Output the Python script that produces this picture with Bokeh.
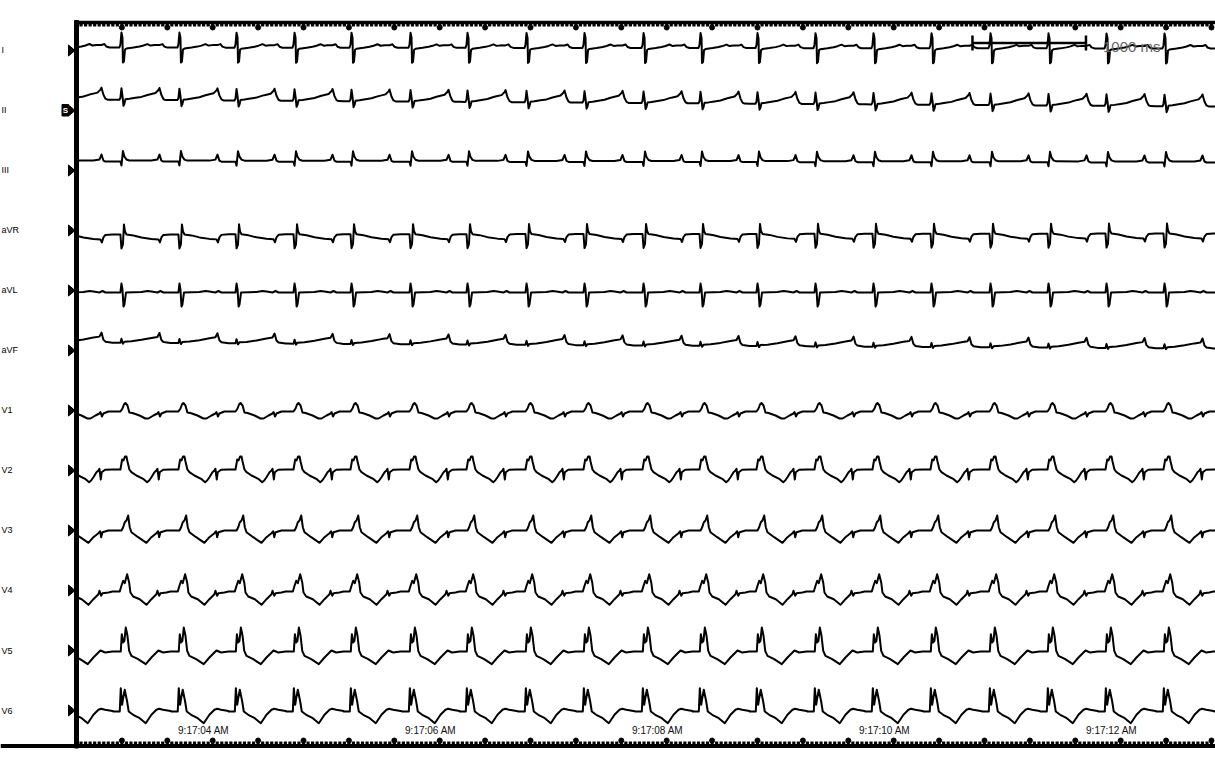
from bokeh.plotting import figure
from bokeh.models import Range1d
from bokeh.embed import file_html
from bokeh.resources import INLINE
from bokeh.core.properties import value

# ---------------- data ----------------
LEADS = ["I", "II", "III", "aVR", "aVL", "aVF", "V1", "V2", "V3", "V4", "V5", "V6"]

# R-wave times (ms from left edge of strip)
BEATS_MS = [-115, 396, 907, 1410, 1921, 2423, 2943, 3445, 3965, 4476, 4996,
            5498, 6000, 6511, 7022, 7533, 8053, 8564, 9075, 9586, 10097]

# one-beat templates per lead: offset from R (ms) and amplitude (display units, up = +)
TPL_I_MS = [-70, -18, -9, 0, 9, 13, 22, 31, 44, 106, 159, 194, 229, 256, 291, 335, 361, 379, 405, 432]
TPL_I_AMP = [0, 0, 3, 15, 10, -15, -14, -2, -1, 0, 1, 2, 3.5, 2, 2.5, 2.5, 3.5, 1, 0, 0]

TPL_II_MS = [-70, -18, -9, 0, 9, 18, 26, 35, 70, 123, 176, 229, 264, 300, 326, 335, 352, 370, 388, 432]
TPL_II_AMP = [0, 0, 2, 11.5, 4, -6, -4, 0.5, 1, 2, 3, 5, 6, 7, 10, 12, 5, 1, 0, 0]

TPL_III_MS = [-70, -9, 0, 13, 26, 44, 70, 264, 317, 335, 352, 370, 432]
TPL_III_AMP = [0, 0, -4, 10.5, 5, 2, 1, 1, 2, 7, 1, 0, 0]

TPL_AVR_MS = [-70, -9, 0, 13, 22, 31, 44, 106, 176, 264, 326, 339, 352, 370, 432]
TPL_AVR_AMP = [0, 0, -14, -10, 10, 3, 0, -1, -3, -4.5, -5, -8, -3, -0.5, 0]

TPL_AVL_MS = [-70, -9, 0, 9, 18, 26, 40, 176, 229, 264, 317, 344, 370, 432]
TPL_AVL_AMP = [0, 0, 9, 3, -14, -12, 0, 0.5, 1.5, 1, 0, 1.5, 0, 0]

TPL_AVF_MS = [-70, -9, 0, 13, 26, 88, 176, 264, 317, 335, 352, 370, 432]
TPL_AVF_AMP = [0, 0, 4, -1, 1, 1.5, 3, 5, 6, 10, 3, 1, 0]

TPL_V1_MS = [-70, -9, 9, 22, 35, 53, 70, 97, 159, 211, 238, 282, 317, 326, 339, 352, 396, 432]
TPL_V1_AMP = [0, 0, 3, 7, 8.5, 6, -1, -1.5, -4, -7, -7, -4, -2, -0.5, -5, -2, 0, 0]

TPL_V2_MS = [-70, -9, 6, 18, 31, 44, 53, 70, 88, 132, 191, 226, 244, 264, 291, 308, 317, 329, 337, 367, 432]
TPL_V2_AMP = [0, 0, 10, 9, 13, 13, 8, 0, -2.7, -6, -9.3, -12.7, -11, -7.7, -2.7, -1, 0.7, -10, -2.7, -0.3, 0]

TPL_V3_MS = [-70, 0, 15, 29, 44, 59, 73, 88, 147, 220, 264, 308, 323, 332, 344, 396, 432]
TPL_V3_AMP = [0, 0, 3.3, 8.3, 10, 15, 3.3, -1.7, -6.7, -12.3, -6.7, -2.7, -0.7, -6.7, -1.7, 0, 0]

TPL_V4_MS = [-70, -15, 0, 15, 29, 50, 68, 79, 103, 161, 220, 264, 308, 317, 332, 344, 396, 432]
TPL_V4_AMP = [0, 0, 5.7, 10.7, 8.3, 17.3, 9, -1, -5, -7.7, -13.3, -7.7, -2.7, 0.7, -4.3, -1.7, -1, 0]

TPL_V5_MS = [-70, -6, 3, 15, 26, 38, 53, 68, 88, 147, 214, 264, 308, 326, 367, 432]
TPL_V5_AMP = [0, 0, 17.3, 9, 10.7, 24, 15.7, 0.7, -4.3, -7.7, -12.7, -6, -1, 1, -1, 0]

TPL_V6_MS = [-70, -15, -6, 6, 15, 29, 50, 64, 103, 161, 214, 264, 308, 332, 367, 432]
TPL_V6_AMP = [0, 0, 23.3, 6.7, 13.3, 21.7, 10, 0, -3.3, -6.7, -11.7, -3.3, 1.7, 2.7, 1.7, 0.5]

TEMPLATES = [(TPL_I_MS, TPL_I_AMP), (TPL_II_MS, TPL_II_AMP), (TPL_III_MS, TPL_III_AMP),
             (TPL_AVR_MS, TPL_AVR_AMP), (TPL_AVL_MS, TPL_AVL_AMP), (TPL_AVF_MS, TPL_AVF_AMP),
             (TPL_V1_MS, TPL_V1_AMP), (TPL_V2_MS, TPL_V2_AMP), (TPL_V3_MS, TPL_V3_AMP),
             (TPL_V4_MS, TPL_V4_AMP), (TPL_V5_MS, TPL_V5_AMP), (TPL_V6_MS, TPL_V6_AMP)]

# baseline wander at the left / right edge of the strip (display units, up = +)
WANDER_START = [1, 2, 0, -1, 0, 3, 0, 0, 0, 0, 0, 0]
WANDER_END = [0, -5, -1, 0, 0, -3, 0, 0, 0, 0, 0, 0]

TIME_LABELS = ["9:17:04 AM", "9:17:06 AM", "9:17:08 AM", "9:17:10 AM", "9:17:12 AM"]
TIME_LABEL_S = [1.12, 3.12, 5.12, 7.12, 9.12]

SCALE_START_S = 7.894
SCALE_MS = 1000
SCALE_TEXT = "1000 ms"

# ---------------- layout ----------------
W, H = 1215, 768
PX0 = 76.0           # pixel of t = 0 (the strip's left edge)
PPS = 113.5          # pixels per second
T_END = (W - PX0) / PPS


def tx(px):
    """absolute pixel column -> seconds"""
    return (px - PX0) / PPS


ROW_BASE = [48, 101, 161, 233, 292, 345, 411, 469, 530, 591, 651, 711]
LABEL_Y = [49 + 60.1 * i for i in range(12)]
ARROW_Y = [50 + 60.0 * i for i in range(12)]
FONT = value("Liberation Sans")

p = figure(width=W, height=H, x_range=Range1d(tx(0), tx(W)), y_range=Range1d(H, 0),
           output_backend="svg", toolbar_location=None, min_border=0,
           x_axis_location=None, y_axis_location=None, outline_line_color=None,
           background_fill_color="white", border_fill_color="white")
p.xgrid.visible = False
p.ygrid.visible = False

# traces
for i, (ms, amp) in enumerate(TEMPLATES):
    xs, ys = [], []
    for b in BEATS_MS:
        for m, a in zip(ms, amp):
            t = (b + m) / 1000.0
            frac = min(max(t / T_END, 0.0), 1.0)
            w = WANDER_START[i] + (WANDER_END[i] - WANDER_START[i]) * frac
            xs.append(t)
            ys.append(ROW_BASE[i] - (a + w))
    p.line(xs, ys, line_color="black", line_width=2, line_join="round")

# blank label margin (traces start at the strip edge)
p.quad(left=[tx(0)], right=[tx(75)], top=[0], bottom=[H], color="white")

# frame lines
p.segment(x0=[tx(74)], x1=[tx(W)], y0=[22], y1=[22], line_color="black", line_width=3.5)
p.segment(x0=[tx(0)], x1=[tx(W)], y0=[745.5], y1=[745.5], line_color="black", line_width=4)
p.quad(left=[tx(74)], right=[tx(78)], top=[20], bottom=[747.5], color="black")
# minor ticks every 0.04 s
minor = [0.04 * k for k in range(1, 251)]
p.segment(x0=minor, x1=minor, y0=[23.5] * len(minor), y1=[26] * len(minor),
          line_color="black", line_width=3.2)
p.segment(x0=minor, x1=minor, y0=[741] * len(minor), y1=[743.5] * len(minor),
          line_color="black", line_width=3.2)
# major tick dots every 0.4 s
dots = [0.4 * k for k in range(1, 26)]
p.scatter(dots, [27] * len(dots), size=5, color="black")
p.scatter(dots, [740] * len(dots), size=5, color="black")

# lead arrows, labels and "S" marker
p.patches(xs=[[tx(68), tx(74.5), tx(68)] for _ in ARROW_Y],
          ys=[[y - 5.5, y, y + 5.5] for y in ARROW_Y], color="black")
p.text(x=[tx(1)] * 12, y=LABEL_Y, text=LEADS, text_align="left", text_baseline="middle",
       text_font=FONT, text_font_size="9px", text_color="black")
p.quad(left=[tx(61.5)], right=[tx(68)], top=[104], bottom=[115.5], color="black")
p.text(x=[tx(64.8)], y=[110], text=["S"], text_align="center", text_baseline="middle",
       text_font=FONT, text_font_size="8px", text_color="white", text_font_style="bold")

# time labels
p.text(x=TIME_LABEL_S, y=[730] * len(TIME_LABELS), text=TIME_LABELS, text_align="center",
       text_baseline="middle", text_font=FONT, text_font_size="10px", text_color="#111111")

# scale bar
s0 = SCALE_START_S
s1 = SCALE_START_S + SCALE_MS / 1000.0
p.segment(x0=[s0, s0, s1], x1=[s1, s0, s1], y0=[42.5, 35, 35], y1=[42.5, 50, 50],
          line_color="black", line_width=2.5)
p.text(x=[s1 + 17 / PPS], y=[46], text=[SCALE_TEXT], text_align="left", text_baseline="middle",
       text_font=FONT, text_font_size="15px", text_color="#666666")

open("out.html", "w").write(file_html(p, INLINE))
